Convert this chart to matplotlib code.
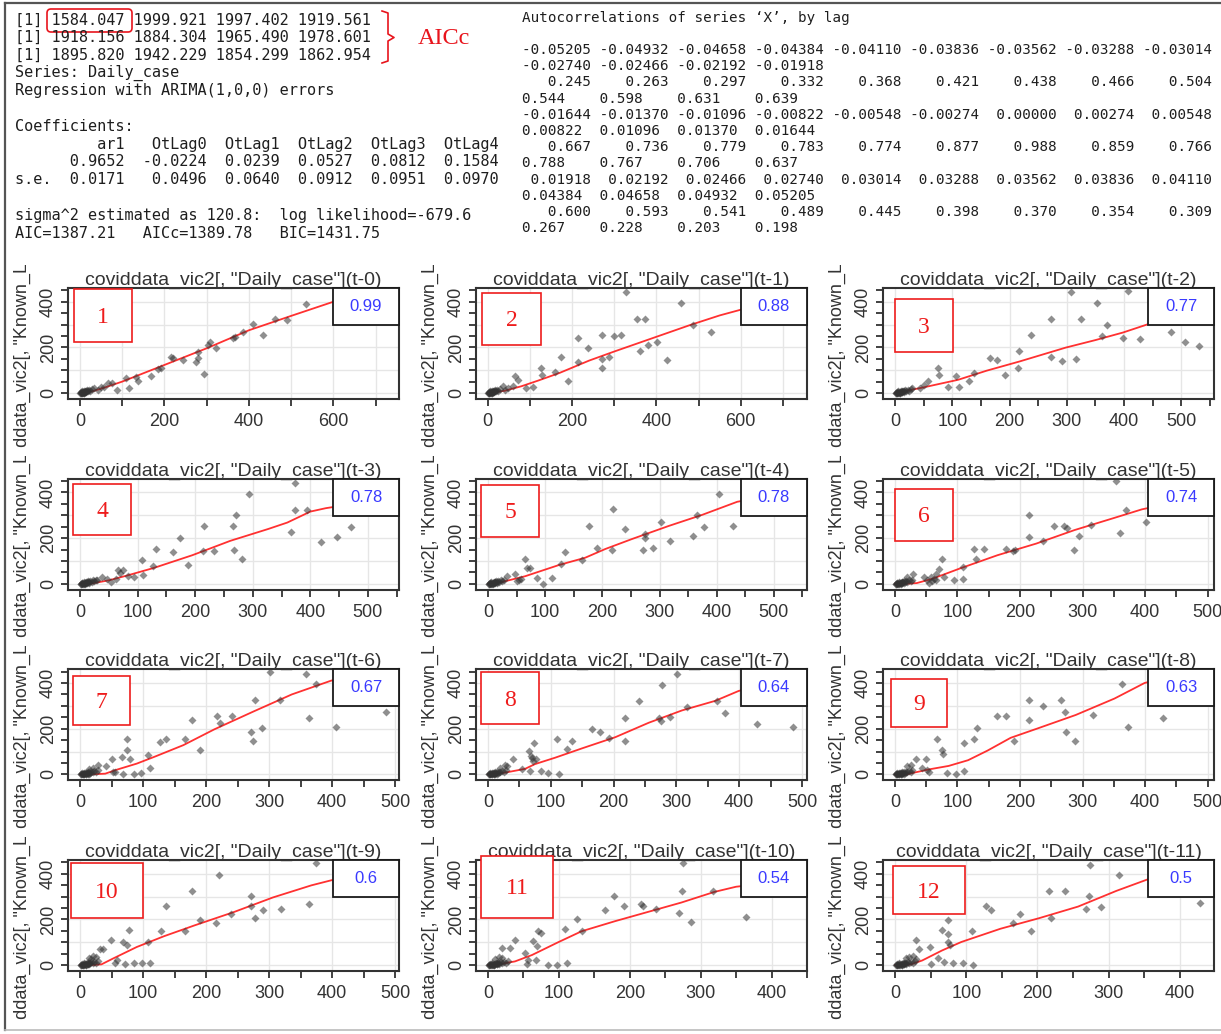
import matplotlib
matplotlib.use("Agg")
import matplotlib.pyplot as plt
from matplotlib.patches import Rectangle, FancyBboxPatch
from matplotlib.ticker import MultipleLocator
from matplotlib.transforms import Bbox, TransformedBbox, offset_copy

plt.rcParams['font.family'] = ['Liberation Sans', 'DejaVu Sans']

# ---------------- console output: model comparison ----------------
AICC_ROWS = [
    [1584.047, 1999.921, 1997.402, 1919.561],
    [1918.156, 1884.304, 1965.490, 1978.601],
    [1895.820, 1942.229, 1854.299, 1862.954],
]
SERIES_NAME = "Daily_case"
COEF_NAMES = ["ar1", "OtLag0", "OtLag1", "OtLag2", "OtLag3", "OtLag4"]
COEF_EST = [0.9652, -0.0224, 0.0239, 0.0527, 0.0812, 0.1584]
COEF_SE = [0.0171, 0.0496, 0.0640, 0.0912, 0.0951, 0.0970]
SIGMA2 = 120.8
LOGLIK = -679.6
AIC, AICC, BIC = 1387.21, 1389.78, 1431.75

# ---------------- console output: cross-correlations ----------------
ACF_LAG_A = [-0.05205, -0.04932, -0.04658, -0.04384, -0.04110, -0.03836, -0.03562,
             -0.03288, -0.03014, -0.02740, -0.02466, -0.02192, -0.01918]
ACF_VAL_A = [0.245, 0.263, 0.297, 0.332, 0.368, 0.421, 0.438, 0.466, 0.504,
             0.544, 0.598, 0.631, 0.639]
ACF_LAG_B = [-0.01644, -0.01370, -0.01096, -0.00822, -0.00548, -0.00274, 0.00000,
             0.00274, 0.00548, 0.00822, 0.01096, 0.01370, 0.01644]
ACF_VAL_B = [0.667, 0.736, 0.779, 0.783, 0.774, 0.877, 0.988, 0.859, 0.766,
             0.788, 0.767, 0.706, 0.637]
ACF_LAG_C = [0.01918, 0.02192, 0.02466, 0.02740, 0.03014, 0.03288, 0.03562,
             0.03836, 0.04110, 0.04384, 0.04658, 0.04932, 0.05205]
ACF_VAL_C = [0.600, 0.593, 0.541, 0.489, 0.445, 0.398, 0.370, 0.354, 0.309,
             0.267, 0.228, 0.203, 0.198]

# ---------------- lag scatter plots ----------------
LAGS = list(range(12))
LAG_CORR = [0.99, 0.88, 0.77, 0.78, 0.78, 0.74, 0.67, 0.64, 0.63, 0.6, 0.54, 0.5]
X_NAME = 'coviddata_vic2[, "Daily_case"]'
Y_NAME = 'coviddata_vic2[, "Known_Local"]'

# low-count days shared by every lag
LOW_X = [1, 2, 3, 4, 5, 6, 7, 8, 9, 10, 11, 12, 13, 14, 16, 18, 20, 22, 25, 28, 3, 6, 9, 12, 15]
LOW_Y = [0, 1, 0, 2, 1, 3, 0, 5, 2, 4, 8, 3, 6, 10, 7, 12, 9, 15, 11, 18, 4, 7, 1, 9, 3]

LAG0_X = [536, 462, 489, 409, 433, 386, 366, 362, 303, 307, 322, 279, 275, 279, 293, 243,
          220, 216, 192, 184, 168, 137, 133, 109, 117, 89, 77, 66, 58, 50, 42, 34, 700]
LAG0_Y = [390, 323, 320, 301, 254, 269, 247, 240, 210, 222, 199, 181, 137, 152, 85, 145,
          152, 159, 108, 105, 76, 53, 72, 67, 23, 13, 42, 45, 28, 28, 13, 20, 445]
LAG1_X = [328, 459, 354, 373, 487, 530, 272, 300, 315, 214, 238, 401, 379, 360, 426, 272,
          287, 270, 215, 173, 190, 160, 129, 127, 65, 71, 106, 90, 59, 47, 35, 40]
LAG1_Y = [444, 393, 323, 323, 298, 269, 255, 250, 255, 240, 199, 223, 211, 182, 145, 150,
          156, 109, 138, 156, 54, 92, 77, 109, 73, 58, 25, 22, 29, 22, 30, 15]
LAG2_X = [308, 407, 353, 272, 325, 371, 482, 362, 237, 398, 428, 506, 531, 272, 292, 316,
          217, 214, 165, 178, 192, 129, 138, 106, 75, 76, 93, 111, 57, 43, 30, 50]
LAG2_Y = [444, 447, 393, 323, 323, 298, 269, 250, 255, 240, 237, 225, 208, 156, 141, 150,
          182, 109, 153, 145, 77, 54, 87, 73, 109, 77, 25, 25, 51, 22, 20, 35]
LAG3_X = [374, 294, 374, 394, 270, 215, 265, 367, 471, 173, 446, 418, 132, 161, 213, 233,
          268, 281, 188, 107, 126, 110, 93, 83, 66, 75, 63, 46, 53, 30, 38, 70]
LAG3_Y = [441, 393, 324, 324, 301, 253, 253, 228, 247, 199, 206, 184, 151, 137, 144, 144,
          147, 107, 81, 106, 76, 37, 29, 32, 59, 62, 22, 22, 7, 18, 30, 45]
LAG4_X = [404, 219, 366, 177, 240, 274, 274, 302, 377, 429, 358, 319, 191, 217, 271, 289,
          135, 165, 127, 65, 74, 68, 112, 96, 85, 48, 33, 54, 50, 58]
LAG4_Y = [395, 327, 302, 253, 240, 220, 201, 269, 248, 253, 207, 188, 155, 147, 147, 155,
          139, 106, 85, 109, 69, 69, 24, 0, 24, 41, 33, 16, 10, 20]
LAG5_X = [354, 370, 360, 401, 214, 214, 237, 255, 271, 275, 295, 286, 314, 178, 188, 142,
          192, 126, 130, 109, 109, 95, 79, 75, 71, 66, 52, 47, 29, 20, 55, 60, 62, 58, 65]
LAG5_Y = [449, 324, 224, 272, 301, 203, 188, 253, 253, 245, 209, 150, 257, 151, 143, 151,
          147, 154, 110, 74, 22, 15, 29, 110, 66, 44, 15, 29, 44, 29, 5, 10, 20, 30, 15]
LAG6_X = [302, 358, 375, 278, 318, 485, 364, 406, 217, 241, 222, 177, 272, 274, 288, 191,
          167, 127, 136, 108, 111, 97, 86, 74, 74, 79, 67, 51, 69, 56, 41, 28, 20, 15, 52]
LAG6_Y = [449, 441, 396, 326, 326, 271, 246, 209, 256, 256, 224, 238, 187, 146, 201, 106,
          153, 140, 154, 84, 28, 6, 0, 153, 106, 69, 76, 69, 3, 10, 35, 40, 30, 25, 12]
LAG7_X = [301, 277, 240, 364, 377, 429, 485, 166, 179, 219, 272, 275, 290, 317, 192, 218,
          110, 134, 126, 74, 65, 69, 76, 40, 27, 85, 95, 113, 54, 67, 20, 30, 72, 70]
LAG7_Y = [441, 392, 323, 323, 269, 220, 207, 199, 184, 245, 248, 233, 251, 297, 158, 147,
          155, 147, 109, 136, 101, 82, 69, 69, 41, 16, 8, 0, 24, 13, 30, 35, 60, 70]
LAG8_X = [363, 428, 317, 372, 215, 237, 265, 272, 274, 288, 215, 163, 177, 132, 126, 110,
          191, 68, 76, 77, 111, 97, 83, 50, 33, 43, 20, 25, 55, 52]
LAG8_Y = [396, 246, 260, 209, 324, 301, 324, 271, 187, 147, 238, 256, 256, 201, 153, 138,
          147, 153, 106, 87, 15, 0, 6, 69, 69, 29, 35, 40, 10, 20]
LAG9_X = [375, 220, 177, 272, 137, 272, 290, 319, 364, 278, 191, 216, 240, 167, 128, 108,
          77, 68, 49, 74, 37, 31, 86, 99, 111, 71, 15, 20, 25, 18, 55, 58]
LAG9_Y = [448, 393, 323, 301, 257, 260, 239, 247, 269, 207, 199, 184, 225, 149, 149, 101,
          153, 101, 108, 86, 72, 72, 9, 9, 9, 6, 30, 40, 35, 25, 10, 20]
LAG10_X = [275, 273, 318, 178, 192, 216, 218, 165, 237, 270, 287, 364, 126, 109, 133, 38,
           71, 75, 64, 69, 20, 31, 84, 97, 112, 67, 52, 57, 15, 20, 10, 55]
LAG10_Y = [449, 326, 326, 303, 257, 269, 257, 241, 246, 228, 187, 211, 203, 156, 148, 110,
           151, 139, 105, 85, 74, 74, 0, 0, 7, 23, 52, 20, 35, 30, 25, 5]
LAG11_X = [274, 363, 315, 216, 238, 272, 429, 289, 268, 127, 135, 176, 219, 166, 191, 108,
           74, 66, 74, 75, 77, 30, 49, 82, 96, 109, 68, 51, 33, 20, 25, 15, 30, 60]
LAG11_Y = [439, 448, 393, 324, 324, 301, 272, 254, 247, 257, 239, 225, 207, 184, 147, 147,
           199, 155, 137, 101, 86, 111, 79, 9, 9, 0, 13, 3, 69, 35, 40, 30, 25, 30]

# lowess curves, one per lag
FIT0_X = [0, 30, 60, 100, 200, 300, 400, 500, 600, 700]
FIT0_Y = [0, 8, 25, 50, 123, 196, 275, 338, 400, 455]
FIT1_X = [0, 40, 80, 120, 170, 240, 300, 390, 480, 550, 600, 700]
FIT1_Y = [0, 10, 30, 55, 88, 142, 182, 240, 298, 340, 365, 420]
FIT2_X = [0, 50, 110, 160, 217, 298, 350, 398, 440, 480]
FIT2_Y = [0, 25, 58, 98, 138, 199, 232, 265, 300, 325]
FIT3_X = [0, 17, 50, 83, 129, 195, 261, 327, 360, 380, 400, 427, 450]
FIT3_Y = [0, 0, 15, 37, 70, 125, 188, 240, 268, 292, 316, 331, 340]
FIT4_X = [0, 25, 65, 124, 170, 205, 252, 316, 375, 436, 460]
FIT4_Y = [0, 8, 33, 82, 114, 152, 196, 253, 302, 359, 370]
FIT5_X = [0, 17, 35, 60, 103, 164, 226, 287, 349, 395, 420]
FIT5_Y = [0, 0, 3, 22, 66, 125, 176, 235, 287, 326, 340]
FIT6_X = [0, 15, 40, 59, 90, 120, 164, 213, 275, 336, 398, 420]
FIT6_Y = [0, 0, 3, 21, 47, 79, 128, 197, 275, 350, 410, 425]
FIT7_X = [0, 28, 59, 75, 107, 150, 203, 256, 309, 362, 399, 420]
FIT7_Y = [0, 8, 24, 45, 73, 114, 163, 226, 280, 322, 365, 380]
FIT8_X = [0, 18, 55, 86, 117, 148, 185, 228, 289, 351, 399, 420]
FIT8_Y = [0, 0, 22, 37, 62, 104, 160, 201, 260, 332, 400, 415]
FIT9_X = [0, 15, 34, 52, 90, 133, 182, 244, 306, 367, 414, 430]
FIT9_Y = [0, 0, 3, 28, 79, 126, 174, 232, 296, 349, 382, 392]
FIT10_X = [0, 15, 38, 62, 99, 132, 179, 226, 273, 319, 350, 370]
FIT10_Y = [0, 3, 16, 44, 100, 148, 192, 233, 274, 320, 343, 350]
FIT11_X = [0, 5, 22, 38, 66, 93, 148, 202, 257, 311, 366, 385]
FIT11_Y = [0, 0, 3, 20, 64, 101, 159, 205, 256, 325, 388, 400]

POINTS_X = [LAG0_X, LAG1_X, LAG2_X, LAG3_X, LAG4_X, LAG5_X, LAG6_X, LAG7_X, LAG8_X, LAG9_X, LAG10_X, LAG11_X]
POINTS_Y = [LAG0_Y, LAG1_Y, LAG2_Y, LAG3_Y, LAG4_Y, LAG5_Y, LAG6_Y, LAG7_Y, LAG8_Y, LAG9_Y, LAG10_Y, LAG11_Y]
FITS_X = [FIT0_X, FIT1_X, FIT2_X, FIT3_X, FIT4_X, FIT5_X, FIT6_X, FIT7_X, FIT8_X, FIT9_X, FIT10_X, FIT11_X]
FITS_Y = [FIT0_Y, FIT1_Y, FIT2_Y, FIT3_Y, FIT4_Y, FIT5_Y, FIT6_Y, FIT7_Y, FIT8_Y, FIT9_Y, FIT10_Y, FIT11_Y]

# ---------------- layout (pixels) ----------------
W, H = 1221, 1034
COL_LEFT = [68, 476, 883]
ROW_TOP = [288, 478.7, 669.3, 860]
FRAME_W, FRAME_H = 331, 111
X_LIMS = [(-28, 755), (-28, 757), (-21, 557), (-21, 554), (-21, 558), (-19, 510),
          (-19, 506), (-19, 508), (-19, 510), (-19, 506), (-17, 450), (-17, 448)]
X_LABEL_STEP = [200, 200] + [100] * 10
X_TICK_STEP = [100, 100] + [50] * 10
Y_LIM = (-26, 460)
NUM_BOXES = [(74, 289, 132, 342), (482, 293, 541, 345), (895, 299, 953, 352),
             (73, 484, 131, 535), (481, 485, 539, 537), (895, 489, 953, 541),
             (73, 676, 130, 725), (481, 672, 539, 724), (891, 679, 947, 727),
             (71, 863, 143, 918), (481, 856, 553, 918), (893, 866, 965, 914)]

MONO = "DejaVu Sans Mono"
SERIF = "Liberation Serif"
TXT = "#1e1e1e"
AXC = "#333333"

fig = plt.figure(figsize=(W / 100, H / 100), dpi=100)
fig.patch.set_facecolor("white")


def figbox(x0, y0, x1, y1):
    return [x0 / W, 1 - y1 / H, (x1 - x0) / W, (y1 - y0) / H]


# background layer in pixel coordinates
bg = fig.add_axes([0, 0, 1, 1])
bg.set_xlim(0, W)
bg.set_ylim(H, 0)
bg.axis("off")

# outer frame of the console window
bg.plot([5, 5], [3, 1030], color="#555555", lw=1.6)
bg.plot([5, W], [3, 3], color="#555555", lw=1.6)
bg.plot([5, W], [1030, 1030], color="#bbbbbb", lw=1.2)

# ----- left console block -----
left_lines = ["[1] " + " ".join(f"{v:.3f}" for v in row) for row in AICC_ROWS]
left_lines += [f"Series: {SERIES_NAME}", "Regression with ARIMA(1,0,0) errors", "", "Coefficients:"]
cols = []
for j, name in enumerate(COEF_NAMES):
    vals = [f"{COEF_EST[j]:.4f}", f"{COEF_SE[j]:.4f}"]
    w = max(len(name), *(len(v) for v in vals))
    cols.append((name.rjust(w), [v.rjust(w) for v in vals]))
left_lines.append("    " + "".join("  " + c[0] for c in cols))
for i, lab in enumerate(["    ", "s.e."]):
    left_lines.append(lab + "".join("  " + c[1][i] for c in cols))
left_lines += ["", f"sigma^2 estimated as {SIGMA2}:  log likelihood={LOGLIK}",
               f"AIC={AIC:.2f}   AICc={AICC:.2f}   BIC={BIC:.2f}"]
for i, line in enumerate(left_lines):
    bg.text(15, 20 + 17.75 * i, line, family=MONO, fontsize=11, color=TXT,
            ha="left", va="center")

# highlight of the smallest AICc and bracket
bg.add_patch(FancyBboxPatch((47, 9), 85, 23, boxstyle="round,pad=0,rounding_size=4",
                            fill=False, edgecolor="#e8141c", lw=1.2))
bg.plot([382, 388, 388, 394, 388, 388, 382], [11, 13, 34, 37.5, 41, 61, 63],
        color="#e8141c", lw=1.2)
bg.text(418, 39, "AICc", family=SERIF, fontsize=17.5, color="#e8141c",
        ha="left", va="center")

# ----- right console block -----


def row_first(vals, fmt):
    return " ".join(format(v, fmt) for v in vals[:9])


def row_wrap(vals, fmt):
    return "".join(f"{format(v, fmt):<9}" for v in vals[9:]).rstrip()


right_lines = []
for lags, vals in [(ACF_LAG_A, ACF_VAL_A), (ACF_LAG_B, ACF_VAL_B), (ACF_LAG_C, ACF_VAL_C)]:
    right_lines += [row_first(lags, "8.5f"), row_wrap(lags, ".5f"),
                    row_first(vals, "8.3f"), row_wrap(vals, ".3f")]
bg.text(522, 18, "Autocorrelations of series \u2018X\u2019, by lag", family=MONO,
        fontsize=10.25, color=TXT, ha="left", va="center")
for i, line in enumerate(right_lines):
    bg.text(522, 50 + 16.2 * i, line, family=MONO, fontsize=10.25, color=TXT,
            ha="left", va="center")

# ----- y-axis labels, clipped to each plot cell -----
for k in range(len(LAGS)):
    r, c = divmod(k, 3)
    top = ROW_TOP[r]
    cx0 = COL_LEFT[c] - 68
    t = bg.text(COL_LEFT[c] - 46, top + FRAME_H / 2 + 5, Y_NAME, rotation=90,
                fontsize=13, color=AXC, ha="center", va="center",
                rotation_mode="anchor")
    clip = Bbox.from_extents(cx0 / W, 1 - (top + 159.5) / H, (cx0 + 408) / W, 1 - (top - 23) / H)
    t.set_clip_box(TransformedBbox(clip, fig.transFigure))
    t.set_clip_on(True)

# ----- lag panels -----
for k, lag in enumerate(LAGS):
    r, c = divmod(k, 3)
    x0, y0 = COL_LEFT[c], ROW_TOP[r]
    ax = fig.add_axes(figbox(x0, y0, x0 + FRAME_W, y0 + FRAME_H))
    ax.set_xlim(*X_LIMS[k])
    ax.set_ylim(*Y_LIM)
    ax.set_facecolor("white")

    # light grid
    for gx in range(0, int(X_LIMS[k][1]) + 1, 100):
        ax.axvline(gx, color="#e6e6e6", lw=1.0, zorder=0)
    for gy in range(0, 401, 100):
        ax.axhline(gy, color="#e6e6e6", lw=1.0, zorder=0)

    ax.plot(FITS_X[k], FITS_Y[k], color="#ff1a1a", lw=1.3, alpha=0.9, zorder=3)
    ax.plot(LOW_X + POINTS_X[k], LOW_Y + POINTS_Y[k], linestyle="none", marker="D",
            ms=3.8, mfc="#333333", mec="none", alpha=0.55, zorder=4)

    for s in ax.spines.values():
        s.set_color(AXC)
        s.set_linewidth(1.5)
    ax.xaxis.set_major_locator(MultipleLocator(X_LABEL_STEP[k]))
    ax.xaxis.set_minor_locator(MultipleLocator(X_TICK_STEP[k]))
    ax.yaxis.set_major_locator(MultipleLocator(200))
    ax.yaxis.set_minor_locator(MultipleLocator(50))
    ax.tick_params(which="both", direction="out", length=5, width=1.3, colors=AXC,
                   labelsize=13, labelcolor=AXC)
    ax.tick_params(axis="x", pad=5)
    ax.tick_params(axis="y", pad=3)
    for lab in ax.get_yticklabels():
        lab.set_rotation(90)
        lab.set_va("center")

    # title sits on top of the frame
    ax.text(0.5, 1.0, f"{X_NAME}(t-{lag})",
            transform=offset_copy(ax.transAxes, fig=fig, x=0, y=3, units="dots"),
            ha="center", va="baseline", fontsize=14, color=AXC, zorder=1)

    # correlation legend
    bw, bh = 66 / FRAME_W, 37 / FRAME_H
    ax.add_patch(Rectangle((1 - bw, 1 - bh), bw, bh, transform=ax.transAxes,
                           facecolor="white", edgecolor="#1a1a1a", lw=1.3,
                           zorder=6, clip_on=False))
    ax.text(1 - bw / 2, 1 - bh / 2, f"{LAG_CORR[k]:g}", transform=ax.transAxes,
            ha="center", va="center", fontsize=12, color="#3a3aff", zorder=7)

# ----- numbered markers on top -----
top_layer = fig.add_axes([0, 0, 1, 1])
top_layer.set_xlim(0, W)
top_layer.set_ylim(H, 0)
top_layer.axis("off")
top_layer.patch.set_alpha(0)
for k, (a, b, cc, d) in enumerate(NUM_BOXES):
    top_layer.add_patch(Rectangle((a, b), cc - a, d - b, facecolor="white",
                                  edgecolor="#ee1c1c", lw=1.2))
    top_layer.text((a + cc) / 2, (b + d) / 2 + 2, str(k + 1), family=SERIF,
                   fontsize=17, color="#ee1c1c", ha="center", va="center")

fig.savefig("out.png", dpi=100, facecolor="white")
